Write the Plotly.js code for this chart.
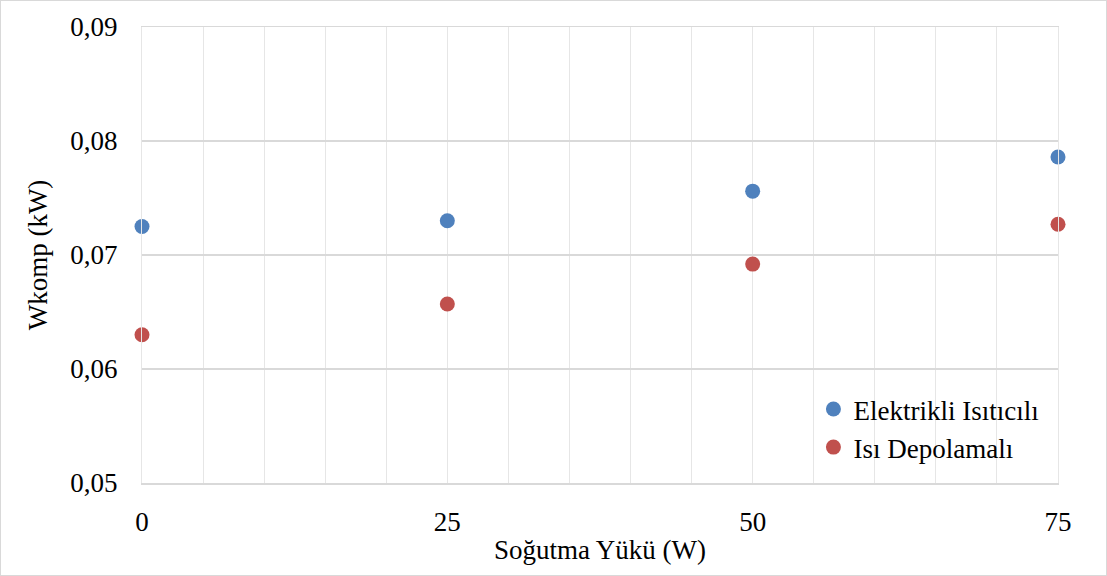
<!DOCTYPE html>
<html>
<head>
<meta charset="utf-8">
<script src="https://cdn.plot.ly/plotly-3.0.1.min.js"></script>
<style>
  html, body { margin: 0; padding: 0; background: #fff; }
  #wrap { position: relative; width: 1107px; height: 576px; }
  #chart { width: 1107px; height: 576px; }
  #frame { position: absolute; left: 0; top: 0; width: 1105px; height: 574px; border: 1px solid #d9d9d9; pointer-events: none; }
  #chart svg text { font-family: 'Liberation Serif', 'Times New Roman', 'DejaVu Serif', serif !important; }
</style>
</head>
<body>
<div id="wrap">
  <div id="chart"></div>
  <div id="frame"></div>
</div>
<script>
const loads = [0, 25, 50, 75];
const elektrikli = [0.0725, 0.0730, 0.0756, 0.0786];
const depolamali = [0.0630, 0.0657, 0.0692, 0.0727];
const seriesNames = ['Elektrikli Isıtıcılı', 'Isı Depolamalı'];
const xTitle = 'Soğutma Yükü (W)';
const yTitle = 'Wkomp (kW)';

const font = 'Liberation Serif, Times New Roman, serif';

const traces = [
  { x: loads, y: elektrikli, name: seriesNames[0], type: 'scatter', mode: 'markers',
    cliponaxis: false, marker: { color: '#4f81bd', size: 15 } },
  { x: loads, y: depolamali, name: seriesNames[1], type: 'scatter', mode: 'markers',
    cliponaxis: false, marker: { color: '#c0504d', size: 15 } }
];

const layout = {
  width: 1107, height: 576,
  margin: { l: 142, r: 49, t: 27, b: 93 },
  paper_bgcolor: '#ffffff', plot_bgcolor: '#ffffff',
  font: { family: font, size: 27, color: '#000' },
  separators: ',.',
  showlegend: true,
  legend: {
    x: 0.733, y: 0.215, xanchor: 'left', yanchor: 'top',
    bgcolor: 'rgba(0,0,0,0)', font: { family: font, size: 27, color: '#000' },
    itemclick: false
  },
  xaxis: {
    range: [0, 75], tickvals: loads, ticktext: loads.map(String),
    showgrid: true, gridcolor: '#e6e6e6', gridwidth: 1,
    minor: { dtick: 5, tick0: 0, showgrid: true, gridcolor: '#e6e6e6', gridwidth: 1 },
    zeroline: false, showline: true, mirror: true, linecolor: '#d9d9d9', linewidth: 1.5,
    ticks: 'outside', ticklen: 14, tickcolor: 'rgba(0,0,0,0)',
    tickfont: { family: font, size: 27, color: '#000' },
    title: { text: xTitle, font: { family: font, size: 27, color: '#000' }, standoff: 4 },
    fixedrange: true
  },
  yaxis: {
    range: [0.05, 0.09], dtick: 0.01, tick0: 0.05, tickformat: '.2f',
    showgrid: true, gridcolor: '#d9d9d9', gridwidth: 1.5,
    zeroline: false, showline: true, mirror: true, linecolor: '#e6e6e6', linewidth: 1,
    ticks: 'outside', ticklen: 18, tickcolor: 'rgba(0,0,0,0)',
    tickfont: { family: font, size: 27, color: '#000' },
    title: { text: yTitle, font: { family: font, size: 27, color: '#000' }, standoff: 14 },
    fixedrange: true
  }
};

Plotly.newPlot('chart', traces, layout, { displayModeBar: false, staticPlot: true });
</script>
</body>
</html>
